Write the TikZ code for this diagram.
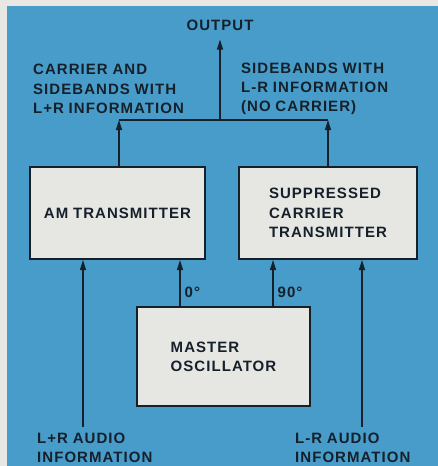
\documentclass[tikz,border=0pt]{standalone}
\usepackage{fontspec}
\usepackage{xcolor}
\usetikzlibrary{arrows.meta}
\setmainfont{Liberation Sans}[WordSpace=0.9,LetterSpace=7]
\definecolor{paper}{HTML}{E8E7E3}
\definecolor{panel}{HTML}{489CC9}
\definecolor{boxfill}{HTML}{E6E6E2}
\definecolor{ink}{HTML}{16202A}

\begin{document}
\begin{tikzpicture}[x=1pt,y=-1pt,
  txt/.style={font=\bfseries\fontsize{15}{19.3}\selectfont,text=ink,inner sep=0pt},
  blk/.style={txt,draw=ink,line width=2pt,fill=boxfill,align=left},
  arr/.style={-{Triangle[length=10pt,width=6pt]},draw=ink,line width=1.3pt},
  wire/.style={draw=ink,line width=1.3pt}]
\fill[paper] (0,0) rectangle (438,466);
\fill[panel] (7,6) rectangle (438,466);
% blocks
\node[blk,minimum width=175,minimum height=92] (am) at (117.5,213) {AM TRANSMITTER};
\node[blk,minimum width=178,minimum height=92] (sc) at (328,213) {SUPPRESSED\\CARRIER\\TRANSMITTER};
\node[blk,minimum width=173,minimum height=99] (osc) at (223.5,356.5) {MASTER\\OSCILLATOR};
% labels
\node[txt] (out) at (220,25) {OUTPUT};
\node[txt,align=left,anchor=west] (lsum) at (33,89) {CARRIER AND\\SIDEBANDS WITH\\L+R INFORMATION};
\node[txt,align=left,anchor=west] (rdif) at (241,89) {SIDEBANDS WITH\\L-R INFORMATION\\(NO CARRIER)};
\node[txt,align=left,anchor=west] (inlt) at (37,447.5) {L+R AUDIO\\INFORMATION};
\node[txt,align=left,anchor=west] (inrt) at (295,447.5) {L-R AUDIO\\INFORMATION};
\coordinate (jn) at (220,120);
\coordinate (amtop) at ([xshift=1.5]am.north);
\coordinate (inl) at (83,427); \coordinate (inr) at (362,427);
% connectors
\draw[arr] (amtop) -- (amtop |- jn);
\draw[arr] (sc.north) -- (sc.north |- jn);
\draw[wire] (amtop |- jn) -- (sc.north |- jn);
\draw[arr] (jn) -- ([yshift=-9pt]out.south);
\draw[arr] (inl) -- (inl |- am.south);
\draw[arr] (inr) -- (inr |- sc.south);
\draw[arr] ([xshift=-43.5]osc.north) -- ([xshift=-43.5]osc.north |- am.south) node[txt,pos=0.3,right=4pt] (ph0) {0\textdegree};
\draw[arr] ([xshift=49.5]osc.north) -- ([xshift=49.5]osc.north |- sc.south) node[txt,pos=0.3,right=4pt] (ph90) {90\textdegree};
\end{tikzpicture}
\end{document}
